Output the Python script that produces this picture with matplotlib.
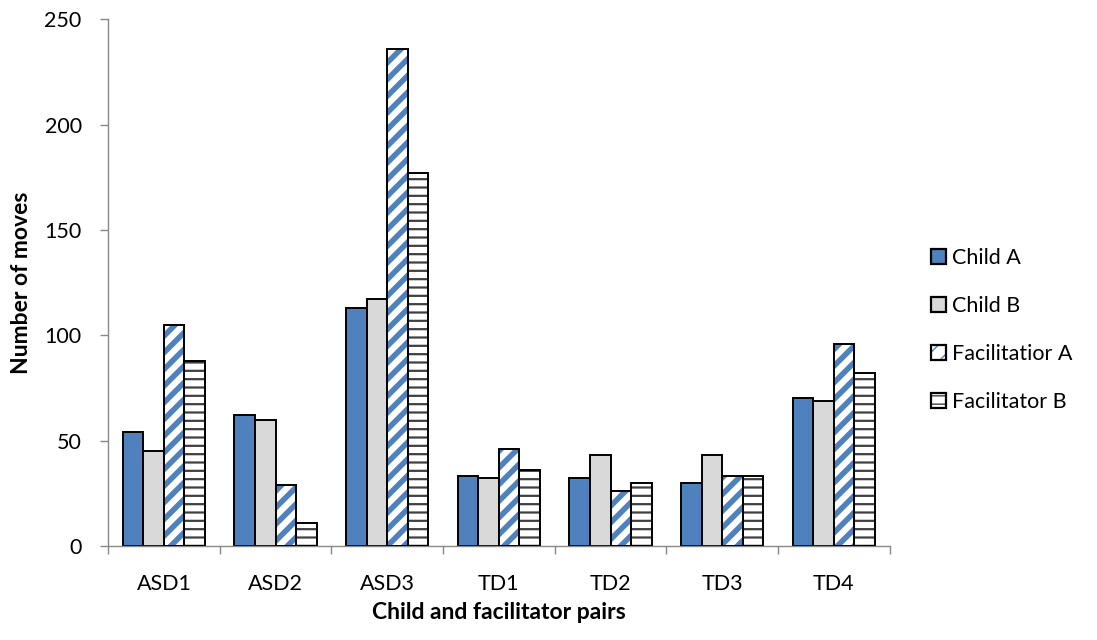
import matplotlib
matplotlib.use("Agg")
import matplotlib.pyplot as plt
import numpy as np
from matplotlib.patches import Patch
from matplotlib.legend_handler import HandlerTuple

plt.rcParams['font.family'] = ['Lato', 'DejaVu Sans']

categories = ["ASD1", "ASD2", "ASD3", "TD1", "TD2", "TD3", "TD4"]
child_a = [54, 62, 113, 33, 32, 30, 70]
child_b = [45, 60, 117, 32, 43, 43, 69]
facilitator_a = [105, 29, 236, 46, 26, 33, 96]
facilitator_b = [88, 11, 177, 36, 30, 33, 82]
series_names = ["Child A", "Child B", "Facilitatior A", "Facilitator B"]
y_ticks = [0, 50, 100, 150, 200, 250]

blue = "#4F81BD"
grey = "#D9D9D9"
dark = "#404040"
axis_grey = "#898989"

fig = plt.figure(figsize=(10.97, 6.40), dpi=100)
ax = fig.add_axes([0.0985, 0.147, 0.7125, 0.823])

x = np.arange(len(categories))
w = 0.184
offsets = np.array([-1.5, -0.5, 0.5, 1.5]) * w

# solid bars
ax.bar(x + offsets[0], child_a, w, color=blue, edgecolor="black", linewidth=1.4, zorder=2)
ax.bar(x + offsets[1], child_b, w, color=grey, edgecolor="black", linewidth=1.4, zorder=2)

# diagonal blue stripes
with plt.rc_context({'hatch.linewidth': 4.0}):
    ax.bar(x + offsets[2], facilitator_a, w, color="white", edgecolor=blue,
           hatch="//", linewidth=0, zorder=2)
ax.bar(x + offsets[2], facilitator_a, w, fill=False, edgecolor="black", linewidth=1.4, zorder=3)

# horizontal dark lines
with plt.rc_context({'hatch.linewidth': 1.6}):
    ax.bar(x + offsets[3], facilitator_b, w, color="white", edgecolor=dark,
           hatch="--", linewidth=0, zorder=2)
ax.bar(x + offsets[3], facilitator_b, w, fill=False, edgecolor="black", linewidth=1.4, zorder=3)

ax.set_xlim(-0.5, len(categories) - 0.5)
ax.set_ylim(0, 250)
ax.set_yticks(y_ticks)
ax.set_xticks(x)
ax.set_xticklabels(categories)
ax.set_xticks(np.arange(len(categories) + 1) - 0.5, minor=True)
ax.tick_params(axis='x', which='major', length=0, pad=20, labelsize=15.5)
ax.tick_params(axis='x', which='minor', length=6, color=axis_grey, width=1)
ax.tick_params(axis='y', length=6, color=axis_grey, width=1, labelsize=15.5, pad=13)

for s in ["top", "right"]:
    ax.spines[s].set_visible(False)
for s in ["left", "bottom"]:
    ax.spines[s].set_color(axis_grey)
    ax.spines[s].set_linewidth(1)

ax.set_ylabel("Number of moves", fontsize=16.5, fontweight="bold", labelpad=9)
ax.set_xlabel("Child and facilitator pairs", fontsize=16.5, fontweight="bold", labelpad=6)

h_a = Patch(facecolor=blue, edgecolor="black", linewidth=1.6)
h_b = Patch(facecolor=grey, edgecolor="black", linewidth=1.6)
with plt.rc_context({'hatch.linewidth': 4.0}):
    h_c1 = Patch(facecolor="white", edgecolor=blue, hatch="//", linewidth=0)
h_c2 = Patch(fill=False, edgecolor="black", linewidth=1.6)
with plt.rc_context({'hatch.linewidth': 1.6}):
    h_d1 = Patch(facecolor="white", edgecolor=dark, hatch="--", linewidth=0)
h_d2 = Patch(fill=False, edgecolor="black", linewidth=1.6)

fig.legend([h_a, h_b, (h_c1, h_c2), (h_d1, h_d2)], series_names,
           handler_map={tuple: HandlerTuple(ndivide=1, pad=0)},
           loc="center left", bbox_to_anchor=(0.831, 0.484), frameon=False,
           fontsize=15.5, handlelength=0.72, handleheight=0.72, handletextpad=0.25,
           labelspacing=1.3)

fig.savefig("out.png", dpi=100)
